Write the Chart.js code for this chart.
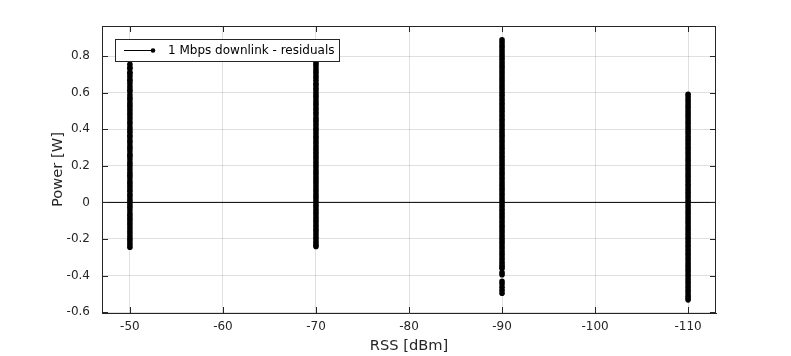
<!DOCTYPE html>
<html>
<head>
<meta charset="utf-8">
<script src="https://cdn.jsdelivr.net/npm/chart.js@4/dist/chart.umd.min.js"></script>
<style>
html,body{margin:0;padding:0;background:#fff;}
#wrap{width:791px;height:356px;}
</style>
</head>
<body>
<div id="wrap"><canvas id="c" width="791" height="356"></canvas></div>
<script>
// ---- data ----
const seriesLabel = "1 Mbps downlink - residuals";
const rssLevels = [-50, -70, -90, -110];
const residualsAt50 = [0.755, 0.738, 0.731, 0.712, 0.703, 0.688, 0.671, 0.664, 0.649, 0.633, 0.618, 0.607, 0.589, 0.574, 0.562, 0.545, 0.531, 0.517, 0.502, 0.486, 0.473, 0.458, 0.441, 0.429, 0.412, 0.398, 0.384, 0.367, 0.355, 0.339, 0.326, 0.309, 0.296, 0.281, 0.264, 0.252, 0.237, 0.221, 0.208, 0.193, 0.178, 0.162, 0.149, 0.134, 0.117, 0.104, 0.089, 0.073, 0.061, 0.044, 0.031, 0.015, 0.002, -0.013, -0.027, -0.042, -0.058, -0.071, -0.086, -0.101, -0.115, -0.129, -0.144, -0.159, -0.173, -0.188, -0.202, -0.216, -0.231, -0.245];
const residualsAt70 = [0.768, 0.755, 0.741, 0.726, 0.712, 0.697, 0.683, 0.668, 0.652, 0.639, 0.624, 0.61, 0.594, 0.581, 0.566, 0.551, 0.537, 0.522, 0.508, 0.493, 0.479, 0.463, 0.45, 0.435, 0.421, 0.405, 0.392, 0.377, 0.362, 0.348, 0.333, 0.319, 0.304, 0.29, 0.275, 0.26, 0.246, 0.232, 0.217, 0.202, 0.188, 0.173, 0.159, 0.144, 0.13, 0.115, 0.101, 0.086, 0.071, 0.057, 0.042, 0.028, 0.013, -0.001, -0.016, -0.03, -0.045, -0.06, -0.074, -0.089, -0.103, -0.118, -0.132, -0.147, -0.161, -0.176, -0.191, -0.205, -0.22, -0.232, -0.241];
const residualsAt90 = [0.889, 0.874, 0.858, 0.846, 0.831, 0.817, 0.803, 0.789, 0.774, 0.759, 0.745, 0.731, 0.716, 0.702, 0.687, 0.673, 0.658, 0.644, 0.629, 0.615, 0.6, 0.586, 0.571, 0.557, 0.542, 0.528, 0.513, 0.499, 0.484, 0.47, 0.455, 0.441, 0.426, 0.412, 0.397, 0.383, 0.368, 0.354, 0.339, 0.325, 0.31, 0.296, 0.281, 0.267, 0.252, 0.238, 0.223, 0.209, 0.194, 0.18, 0.165, 0.151, 0.136, 0.122, 0.107, 0.093, 0.078, 0.064, 0.049, 0.035, 0.02, 0.006, -0.009, -0.023, -0.038, -0.052, -0.067, -0.081, -0.096, -0.11, -0.125, -0.139, -0.154, -0.168, -0.183, -0.197, -0.212, -0.226, -0.241, -0.255, -0.27, -0.284, -0.299, -0.313, -0.327, -0.341, -0.352, -0.361, -0.384, -0.396, -0.432, -0.447, -0.464, -0.481, -0.497];
const residualsAt110 = [0.592, 0.578, 0.563, 0.549, 0.534, 0.52, 0.505, 0.491, 0.476, 0.462, 0.447, 0.433, 0.418, 0.404, 0.389, 0.375, 0.36, 0.346, 0.331, 0.317, 0.302, 0.288, 0.273, 0.259, 0.244, 0.23, 0.215, 0.201, 0.186, 0.172, 0.157, 0.143, 0.128, 0.114, 0.099, 0.085, 0.07, 0.056, 0.041, 0.027, 0.012, -0.002, -0.017, -0.031, -0.046, -0.06, -0.075, -0.089, -0.104, -0.118, -0.133, -0.147, -0.162, -0.176, -0.191, -0.205, -0.22, -0.234, -0.249, -0.263, -0.278, -0.292, -0.307, -0.321, -0.336, -0.35, -0.365, -0.379, -0.394, -0.408, -0.423, -0.437, -0.452, -0.466, -0.481, -0.495, -0.51, -0.522, -0.533];
const xLimits = [-113, -47];
const yLimits = [-0.605, 0.965];
const xTicks = [-110, -100, -90, -80, -70, -60, -50];
const yTicks = [-0.6, -0.4, -0.2, 0, 0.2, 0.4, 0.6, 0.8];
const zeroLine = [0, 0];

// ---- build points ----
const columns = [residualsAt50, residualsAt70, residualsAt90, residualsAt110];
const residualPoints = [];
columns.forEach((vals, i) => vals.forEach(v => residualPoints.push({x: rssLevels[i], y: v})));
const zeroPoints = xLimits.map((x, i) => ({x: x, y: zeroLine[i]}));

const AX = '#262626';
const GRID = 'rgba(38,38,38,0.15)';
const FONT = 'DejaVu Sans';

const boxPlugin = {
  id: 'matlabBox',
  afterDraw(chart) {
    const {ctx, chartArea: a, scales} = chart;
    ctx.save();
    ctx.strokeStyle = AX;
    ctx.lineWidth = 1;
    // box (top/right)
    ctx.beginPath();
    ctx.moveTo(a.left, a.top + 0.5); ctx.lineTo(a.right, a.top + 0.5);
    ctx.moveTo(a.right - 0.5, a.top); ctx.lineTo(a.right - 0.5, a.bottom);
    ctx.stroke();
    // inward ticks
    const tl = 6;
    ctx.beginPath();
    xTicks.forEach(t => {
      const px = Math.round(scales.x.getPixelForValue(t)) + 0.5;
      ctx.moveTo(px, a.bottom); ctx.lineTo(px, a.bottom - tl);
      ctx.moveTo(px, a.top); ctx.lineTo(px, a.top + tl);
    });
    yTicks.forEach(t => {
      const py = Math.round(scales.y.getPixelForValue(t)) + 0.5;
      ctx.moveTo(a.left, py); ctx.lineTo(a.left + tl, py);
      ctx.moveTo(a.right, py); ctx.lineTo(a.right - tl, py);
    });
    ctx.stroke();
    // legend inside the axes
    const lx = 115.5, ly = 39.5, lw = 224, lh = 22;
    ctx.fillStyle = '#fff';
    ctx.fillRect(lx, ly, lw, lh);
    ctx.strokeStyle = AX;
    ctx.strokeRect(lx, ly, lw, lh);
    const cy = ly + lh / 2;
    ctx.strokeStyle = '#000';
    ctx.beginPath();
    ctx.moveTo(124, cy); ctx.lineTo(153, cy);
    ctx.stroke();
    ctx.fillStyle = '#000';
    ctx.beginPath();
    ctx.arc(153, cy, 2.3, 0, Math.PI * 2);
    ctx.fill();
    ctx.font = '12px "' + FONT + '"';
    ctx.textBaseline = 'middle';
    ctx.textAlign = 'left';
    ctx.fillStyle = '#000';
    ctx.fillText(chart.data.datasets[0].label, 168, cy + 0.5);
    ctx.restore();
  }
};

new Chart(document.getElementById('c'), {
  type: 'scatter',
  data: {
    datasets: [
      {
        label: seriesLabel,
        data: residualPoints,
        pointRadius: 2.8,
        pointHoverRadius: 2.8,
        pointBackgroundColor: '#000',
        pointBorderWidth: 0,
        showLine: false
      },
      {
        label: 'zero',
        type: 'line',
        data: zeroPoints,
        borderColor: '#000',
        borderWidth: 1,
        pointRadius: 0,
        fill: false
      }
    ]
  },
  options: {
    responsive: false,
    animation: false,
    devicePixelRatio: 1,
    layout: {padding: {top: 26, right: 75, left: 0, bottom: 0}},
    plugins: {legend: {display: false}, tooltip: {enabled: false}},
    scales: {
      x: {
        type: 'linear',
        reverse: true,
        min: xLimits[0],
        max: xLimits[1],
        afterFit(s) { s.height = 43; },
        afterBuildTicks(s) { s.ticks = xTicks.map(v => ({value: v})); },
        grid: {color: GRID, drawTicks: false, lineWidth: 1},
        border: {display: true, color: AX, width: 1},
        ticks: {
          padding: 7,
          color: AX,
          font: {family: FONT, size: 12},
          maxRotation: 0,
          callback: v => String(v)
        },
        title: {
          display: true,
          text: 'RSS [dBm]',
          color: AX,
          font: {family: FONT, size: 14.67, lineHeight: 1.2},
          padding: {top: 0, bottom: 1}
        }
      },
      y: {
        type: 'linear',
        min: yLimits[0],
        max: yLimits[1],
        afterFit(s) { s.width = 102; },
        afterBuildTicks(s) { s.ticks = yTicks.map(v => ({value: v})); },
        grid: {color: GRID, drawTicks: false, lineWidth: 1},
        border: {display: true, color: AX, width: 1},
        ticks: {
          padding: 12,
          color: AX,
          font: {family: FONT, size: 12},
          callback: v => String(Number(v.toFixed(1)))
        },
        title: {
          display: true,
          text: 'Power [W]',
          color: AX,
          font: {family: FONT, size: 14.67, lineHeight: 1.2},
          padding: {top: 49, bottom: 0}
        }
      }
    }
  },
  plugins: [boxPlugin]
});
</script>
</body>
</html>
